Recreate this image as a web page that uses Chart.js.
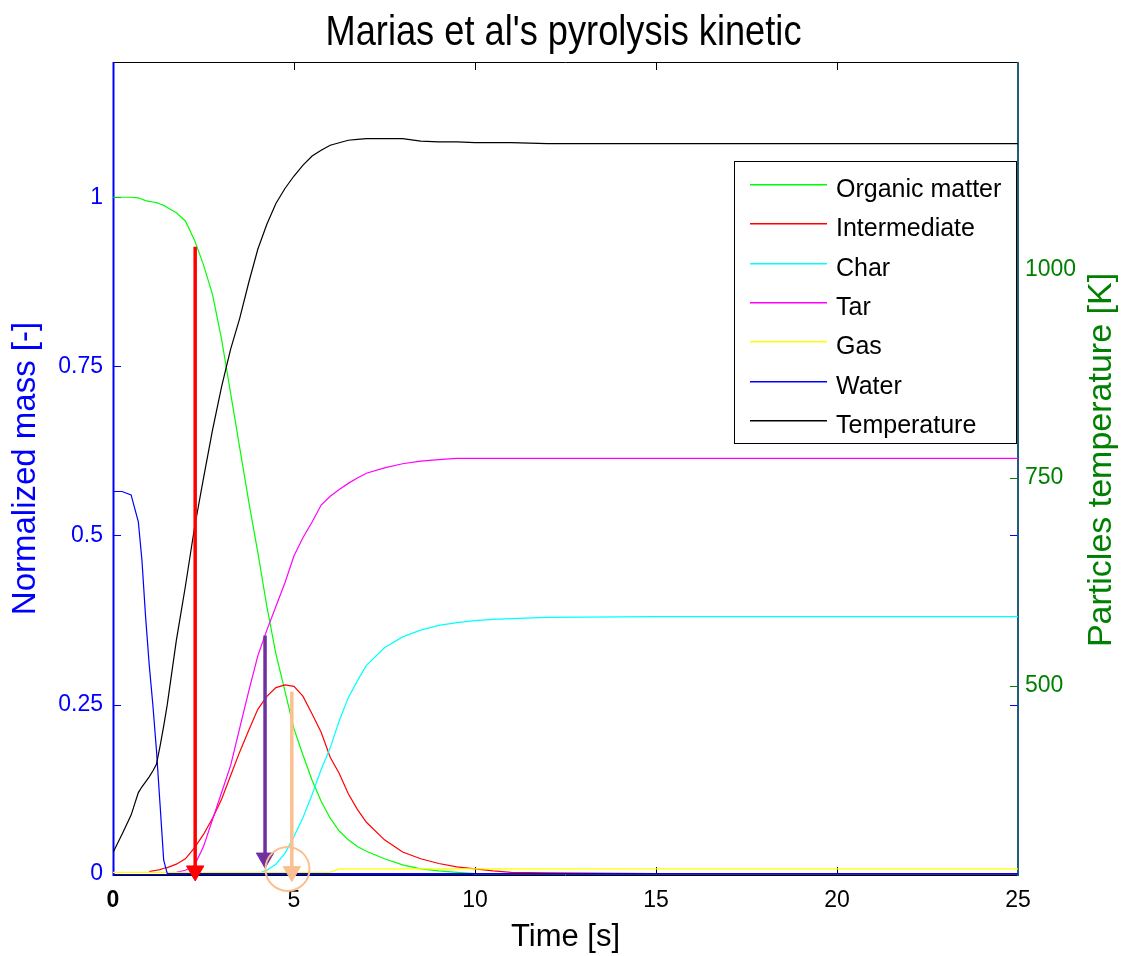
<!DOCTYPE html>
<html>
<head>
<meta charset="utf-8">
<script src="https://cdn.jsdelivr.net/npm/chart.js@4.4.1/dist/chart.umd.min.js"></script>
<style>
  html, body { margin: 0; padding: 0; background: #fff; }
  #wrap { width: 1127px; height: 956px; }
</style>
</head>
<body>
<div id="wrap"><canvas id="c" width="1127" height="956"></canvas></div>
<script>
// time samples [s]
const time = [0, 0.25, 0.5, 0.7, 0.8, 0.9, 1.0, 1.1, 1.2, 1.3, 1.4, 1.5,
  1.75, 2.0, 2.25, 2.5, 2.75, 3.0, 3.25, 3.5, 3.75, 4.0, 4.25, 4.5,
  4.75, 5.0, 5.25, 5.5, 5.75, 6.0, 6.25, 6.5, 6.75, 7.0, 7.5, 8.0,
  8.5, 9.0, 9.5, 10, 10.5, 11, 12, 15, 20, 25];

// normalized masses [-]
const organic = [1, 1, 1, 0.999, 0.997, 0.995, 0.994, 0.993, 0.992, 0.99, 0.988, 0.985,
  0.977, 0.965, 0.937, 0.9, 0.856, 0.79, 0.71, 0.63, 0.55, 0.475, 0.395, 0.325,
  0.27, 0.214, 0.175, 0.138, 0.107, 0.082, 0.063, 0.05, 0.04, 0.033, 0.022, 0.013,
  0.007, 0.004, 0.002, 0, 0, 0, 0, 0, 0, 0];
const intermediate = [null, null, null, null, null, null, 0.003, 0.004, 0.005, 0.006, 0.008, 0.009,
  0.014, 0.022, 0.038, 0.058, 0.082, 0.11, 0.145, 0.18, 0.212, 0.243, 0.262, 0.275,
  0.279, 0.277, 0.262, 0.236, 0.209, 0.172, 0.148, 0.118, 0.095, 0.076, 0.05, 0.032,
  0.022, 0.015, 0.01, 0.007, 0.004, 0.002, 0.001, 0, 0, 0];
const charMass = [null, null, null, null, null, null, null, null, null, null, null, null,
  null, null, null, null, null, null, null, null, null, 0, 0.005, 0.014,
  0.03, 0.055, 0.083, 0.117, 0.154, 0.186, 0.226, 0.26, 0.285, 0.308, 0.334, 0.35,
  0.36, 0.367, 0.371, 0.374, 0.376, 0.377, 0.379, 0.38, 0.38, 0.38];
const tar = [null, null, null, null, null, null, null, null, null, null, null, null,
  0.002, 0.005, 0.012, 0.04, 0.08, 0.12, 0.16, 0.215, 0.27, 0.322, 0.36, 0.395,
  0.43, 0.47, 0.497, 0.52, 0.545, 0.558, 0.568, 0.577, 0.585, 0.592, 0.6, 0.606,
  0.61, 0.612, 0.614, 0.614, 0.614, 0.614, 0.614, 0.614, 0.614, 0.614];
const gas = [0.002, 0.002, 0.002, 0.002, 0.002, 0.002, 0.002, 0.002, 0.002, 0.002, 0.002, 0.002,
  0.002, 0.002, 0.002, 0.002, 0.002, 0.002, 0.002, 0.002, 0.002, 0.002, 0.002, 0.002,
  0.002, 0.002, 0.002, 0.002, 0.002, 0.002, 0.007, 0.007, 0.007, 0.007, 0.007, 0.007,
  0.007, 0.007, 0.007, 0.007, 0.007, 0.007, 0.007, 0.007, 0.007, 0.007];
const water = [0.565, 0.565, 0.56, 0.52, 0.463, 0.38, 0.309, 0.25, 0.183, 0.102, 0.02, 0,
  0, 0, 0, 0, 0, 0, 0, 0, 0, 0, 0, 0,
  0, 0, 0, 0, 0, 0, 0, 0, 0, 0, 0, 0,
  0, 0, 0, 0, 0, 0, 0, 0, 0, 0];
// particle temperature [K]
const temperature = [300, 322, 345, 372, 379, 385, 391, 398, 406, 428, 452, 478,
  555, 620, 690, 750, 808, 860, 905, 942, 985, 1025, 1055, 1080,
  1098, 1113, 1126, 1137, 1144, 1150, 1153, 1156, 1157, 1158, 1158, 1158,
  1155, 1154, 1154, 1153, 1153, 1153, 1152, 1152, 1152, 1152];

const seriesNames = ['Organic matter', 'Intermediate', 'Char', 'Tar', 'Gas', 'Water', 'Temperature'];
const timeTicks = [0, 5, 10, 15, 20, 25];
const massTicks = [0, 0.25, 0.5, 0.75, 1];
const tempTicks = [500, 750, 1000];

// annotation arrows: [time, mass at top, mass at arrow head]
const redArrow = [2.27, 0.927, 0.004];
const purpleArrow = [4.2, 0.352, 0.023];
const peachArrow = [4.94, 0.269, 0.003];
// circle marker: [time, mass]
const peachCircle = [4.82, 0.007];

const FONT = '"Liberation Sans", Arial, Helvetica, sans-serif';
const colors = ['#00ff00', '#ff0000', '#00ffff', '#ff00ff', '#ffff00', '#0000ff', '#000000'];
const PEACH = '#fac090';

function pts(ys) { return time.map((t, i) => ({ x: t, y: ys[i] })); }

const massSeries = [organic, intermediate, charMass, tar, gas, water];
const datasets = massSeries.map((ys, i) => ({
  label: seriesNames[i],
  data: pts(ys),
  yAxisID: 'y',
  borderColor: colors[i],
  borderWidth: 1.2,
  pointRadius: 0,
  tension: 0,
  order: 20 - i
}));
datasets.push({
  label: seriesNames[6],
  data: pts(temperature),
  yAxisID: 'y2',
  borderColor: colors[6],
  borderWidth: 1.2,
  pointRadius: 0,
  tension: 0,
  order: 10
});

function arrow(a, color) {
  return {
    label: '',
    data: [{ x: a[0], y: a[1] }, { x: a[0], y: a[2] }],
    yAxisID: 'y',
    borderColor: color,
    borderWidth: 3.5,
    pointRadius: [0, 10],
    pointStyle: 'triangle',
    pointRotation: 180,
    pointBackgroundColor: color,
    pointBorderColor: color,
    pointBorderWidth: 1,
    clip: false,
    order: 1
  };
}
datasets.push(arrow(redArrow, '#ff0000'));
datasets.push(arrow(purpleArrow, '#7030a0'));
datasets.push(arrow(peachArrow, PEACH));
datasets.push({
  label: '',
  data: [{ x: peachCircle[0], y: peachCircle[1] }],
  yAxisID: 'y',
  showLine: false,
  pointRadius: 22,
  pointStyle: 'circle',
  pointBackgroundColor: 'rgba(0,0,0,0)',
  pointBorderColor: PEACH,
  pointBorderWidth: 2,
  clip: false,
  order: 0
});

// frame and inward ticks (Matlab style)
const framePlugin = {
  id: 'frame',
  beforeDatasetsDraw(chart) {
    const { ctx, chartArea: a, scales } = chart;
    ctx.save();
    const line = (x1, y1, x2, y2, c, w) => {
      ctx.beginPath(); ctx.strokeStyle = c; ctx.lineWidth = w || 1;
      ctx.moveTo(x1, y1); ctx.lineTo(x2, y2); ctx.stroke();
    };
    massTicks.forEach(v => {
      const y = Math.round(scales.y.getPixelForValue(v)) + 0.5;
      line(a.left, y, a.left + 8, y, '#0000ff');
      line(a.right - 8, y, a.right, y, '#0000ff');
    });
    tempTicks.forEach(v => {
      const y = Math.round(scales.y2.getPixelForValue(v)) + 0.5;
      line(a.right - 8, y, a.right, y, '#008000');
    });
    timeTicks.forEach(v => {
      const x = Math.round(scales.x.getPixelForValue(v)) + 0.5;
      line(x, a.bottom, x, a.bottom - 8, '#000');
      line(x, a.top, x, a.top + 8, '#000');
    });
    line(a.left, a.top + 0.5, a.right, a.top + 0.5, '#000');
    const y0 = Math.round(scales.y.getPixelForValue(0)) + 0.5;
    line(a.left, y0, a.right, y0, '#0000ff');
    line(a.left, a.bottom + 0.5, a.right, a.bottom + 0.5, '#000');
    line(a.left + 0.5, a.top, a.left + 0.5, a.bottom + 1, '#0000ff', 2);
    line(a.right, a.top, a.right, a.bottom + 1, '#1f5c7e', 2);
    ctx.restore();
  }
};

// title, right axis title, legend
const extrasPlugin = {
  id: 'extras',
  afterDraw(chart) {
    const { ctx, chartArea: a } = chart;
    ctx.save();
    // title
    ctx.font = '42px ' + FONT;
    ctx.fillStyle = '#000';
    ctx.textAlign = 'center';
    ctx.textBaseline = 'alphabetic';
    const title = "Marias et al's pyrolysis kinetic";
    const sx = 476 / ctx.measureText(title).width;
    ctx.save();
    ctx.translate((a.left + a.right) / 2 - 2, 45);
    ctx.scale(sx, 1);
    ctx.fillText(title, 0, 0);
    ctx.restore();
    // right axis title
    ctx.save();
    ctx.font = '34px ' + FONT;
    ctx.fillStyle = '#008000';
    ctx.textAlign = 'center';
    ctx.textBaseline = 'middle';
    ctx.translate(1102, 460);
    ctx.rotate(-Math.PI / 2);
    ctx.fillText('Particles temperature [K]', 0, 0);
    ctx.restore();
    // legend
    const L = 734, T = 161, R = 1016, B = 443;
    ctx.fillStyle = '#fff';
    ctx.fillRect(L, T, R - L, B - T);
    ctx.strokeStyle = '#000';
    ctx.lineWidth = 1;
    ctx.strokeRect(L + 0.5, T + 0.5, R - L, B - T);
    ctx.font = '25px ' + FONT;
    ctx.textAlign = 'left';
    ctx.textBaseline = 'alphabetic';
    for (let i = 0; i < seriesNames.length; i++) {
      const y = Math.round(184 + i * 39.3);
      ctx.fillStyle = colors[i];
      ctx.fillRect(750, y, 77, 1.5);
      ctx.fillStyle = '#000';
      ctx.fillText(seriesNames[i], 836, y + 13);
    }
    ctx.restore();
  }
};

const fmt = v => String(v);

new Chart(document.getElementById('c'), {
  type: 'line',
  data: { datasets },
  options: {
    responsive: false,
    maintainAspectRatio: false,
    animation: false,
    devicePixelRatio: 1,
    events: [],
    layout: { padding: { top: 62, left: 0, right: 0, bottom: 0 } },
    plugins: {
      legend: { display: false },
      title: { display: false },
      tooltip: { enabled: false }
    },
    scales: {
      x: {
        type: 'linear', min: 0, max: 25,
        afterBuildTicks: s => { s.ticks = timeTicks.map(v => ({ value: v })); },
        afterFit: s => { s.height = 81; },
        grid: { display: false, drawTicks: false },
        border: { display: false },
        ticks: {
          padding: 12, color: '#000', maxRotation: 0, callback: fmt,
          font: c => ({ family: FONT, size: 23, weight: (c.tick && c.tick.value === 0) ? 'bold' : 'normal' })
        },
        title: { display: true, text: 'Time [s]', color: '#000', font: { family: FONT, size: 31 }, padding: { top: 0, bottom: 0 } }
      },
      y: {
        type: 'linear', position: 'left', min: -0.002, max: 1.2,
        afterBuildTicks: s => { s.ticks = massTicks.map(v => ({ value: v })); },
        afterFit: s => { s.width = 113; },
        grid: { display: false, drawTicks: false },
        border: { display: false },
        ticks: { padding: 10, color: '#0000ff', callback: fmt, font: { family: FONT, size: 23 } },
        title: { display: true, text: 'Normalized mass [-]', color: '#0000ff', font: { family: FONT, size: 33 }, padding: { top: 6, bottom: 0 } }
      },
      y2: {
        type: 'linear', position: 'right', min: 273, max: 1250,
        afterBuildTicks: s => { s.ticks = tempTicks.map(v => ({ value: v })); },
        afterFit: s => { s.width = 109; },
        grid: { display: false, drawTicks: false },
        border: { display: false },
        ticks: { padding: 7, color: '#008000', callback: fmt, font: { family: FONT, size: 23 } },
        title: { display: false }
      }
    }
  },
  plugins: [framePlugin, extrasPlugin]
});
</script>
</body>
</html>
